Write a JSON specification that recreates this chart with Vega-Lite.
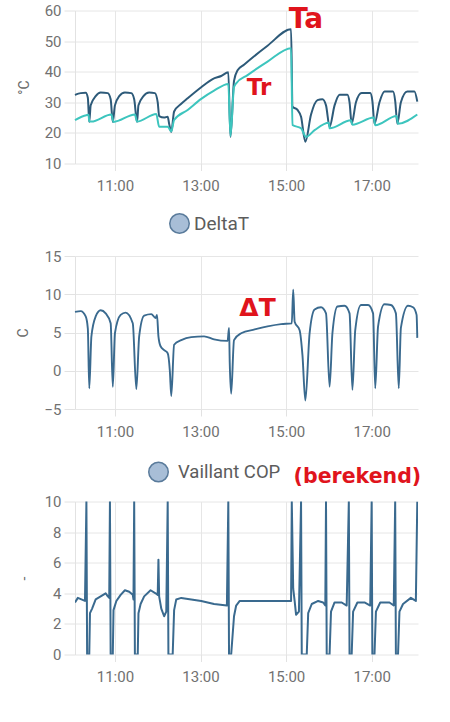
{
  "$schema": "https://vega.github.io/schema/vega-lite/v6.json",
  "background": "#ffffff",
  "padding": {"left": 16, "top": 3.5, "right": 5, "bottom": 5},
  "bounds": "flush",
  "spacing": 92.5,
  "resolve": {
    "scale": {"x": "independent", "y": "independent", "color": "independent", "fill": "independent"},
    "legend": {"color": "independent", "fill": "independent"}
  },
  "config": {
    "view": {"stroke": null},
    "font": "Roboto",
    "axis": {
      "gridColor": "#e6e6e6",
      "domainColor": "#e2e2e2",
      "tickColor": "#e2e2e2",
      "labelColor": "#717171",
      "labelFontSize": 15,
      "labelFontWeight": "normal",
      "titleColor": "#6a6a6a",
      "titleFontSize": 14,
      "titleFontWeight": "normal"
    },
    "axisX": {"domain": false, "tickSize": 7, "labelPadding": 8},
    "axisY": {"domain": true, "tickSize": 11, "labelPadding": 3, "tickCount": 12, "titlePadding": 13},
    "line": {"strokeWidth": 2, "strokeJoin": "round"},
    "legend": {"labelColor": "#5c5c5c", "symbolType": "circle", "symbolSize": 380, "title": null},
    "text": {"font": "DejaVu Sans", "fontWeight": "bold", "color": "#e0141c"}
  },
  "datasets": {
    "temp": [
      {"t": "10:04", "v": 32.4, "s": "Ta"}, {"t": "10:12", "v": 33.0, "s": "Ta"}, {"t": "10:19", "v": 33.1, "s": "Ta"},
      {"t": "10:22", "v": 31.5, "s": "Ta"}, {"t": "10:24", "v": 23.6, "s": "Ta"}, {"t": "10:26", "v": 29, "s": "Ta"},
      {"t": "10:33", "v": 32, "s": "Ta"}, {"t": "10:40", "v": 33.2, "s": "Ta"}, {"t": "10:50", "v": 33, "s": "Ta"},
      {"t": "10:54", "v": 31, "s": "Ta"}, {"t": "10:57", "v": 23.6, "s": "Ta"}, {"t": "11:00", "v": 29, "s": "Ta"},
      {"t": "11:06", "v": 32, "s": "Ta"}, {"t": "11:14", "v": 33.2, "s": "Ta"}, {"t": "11:23", "v": 33, "s": "Ta"},
      {"t": "11:27", "v": 31, "s": "Ta"}, {"t": "11:31", "v": 23.6, "s": "Ta"}, {"t": "11:33", "v": 29, "s": "Ta"},
      {"t": "11:40", "v": 32, "s": "Ta"}, {"t": "11:48", "v": 33.2, "s": "Ta"}, {"t": "11:56", "v": 33, "s": "Ta"},
      {"t": "12:00", "v": 30, "s": "Ta"}, {"t": "12:02", "v": 25.5, "s": "Ta"}, {"t": "12:09", "v": 25, "s": "Ta"},
      {"t": "12:14", "v": 25.3, "s": "Ta"}, {"t": "12:16", "v": 23, "s": "Ta"}, {"t": "12:19", "v": 20.3, "s": "Ta"},
      {"t": "12:23", "v": 27, "s": "Ta"}, {"t": "12:33", "v": 29.5, "s": "Ta"}, {"t": "12:42", "v": 31.3, "s": "Ta"},
      {"t": "13:01", "v": 34.9, "s": "Ta"}, {"t": "13:17", "v": 37.6, "s": "Ta"}, {"t": "13:29", "v": 38.6, "s": "Ta"},
      {"t": "13:39", "v": 39.8, "s": "Ta"}, {"t": "13:42", "v": 18.7, "s": "Ta"}, {"t": "13:47", "v": 37, "s": "Ta"},
      {"t": "13:52", "v": 40.5, "s": "Ta"}, {"t": "14:01", "v": 42.3, "s": "Ta"}, {"t": "14:34", "v": 48.5, "s": "Ta"},
      {"t": "15:07", "v": 53.9, "s": "Ta"}, {"t": "15:09", "v": 28.6, "s": "Ta"}, {"t": "15:16", "v": 27.5, "s": "Ta"},
      {"t": "15:21", "v": 25.3, "s": "Ta"}, {"t": "15:27", "v": 17.1, "s": "Ta"}, {"t": "15:35", "v": 26, "s": "Ta"},
      {"t": "15:44", "v": 30.7, "s": "Ta"}, {"t": "15:51", "v": 31, "s": "Ta"}, {"t": "15:56", "v": 29, "s": "Ta"},
      {"t": "16:01", "v": 22, "s": "Ta"}, {"t": "16:08", "v": 29, "s": "Ta"}, {"t": "16:15", "v": 32.5, "s": "Ta"},
      {"t": "16:26", "v": 32.5, "s": "Ta"}, {"t": "16:29", "v": 30, "s": "Ta"}, {"t": "16:32", "v": 23, "s": "Ta"},
      {"t": "16:38", "v": 30, "s": "Ta"}, {"t": "16:46", "v": 33, "s": "Ta"}, {"t": "16:58", "v": 33, "s": "Ta"},
      {"t": "17:01", "v": 30.5, "s": "Ta"}, {"t": "17:04", "v": 23, "s": "Ta"}, {"t": "17:11", "v": 30, "s": "Ta"},
      {"t": "17:18", "v": 33.5, "s": "Ta"}, {"t": "17:30", "v": 33.5, "s": "Ta"}, {"t": "17:33", "v": 30.5, "s": "Ta"},
      {"t": "17:36", "v": 23, "s": "Ta"}, {"t": "17:41", "v": 30, "s": "Ta"}, {"t": "17:50", "v": 33.5, "s": "Ta"},
      {"t": "18:00", "v": 33.5, "s": "Ta"}, {"t": "18:04", "v": 30.2, "s": "Ta"},
      {"t": "10:04", "v": 24.2, "s": "Tr"}, {"t": "10:20", "v": 25.8, "s": "Tr"}, {"t": "10:23", "v": 25.9, "s": "Tr"},
      {"t": "10:24", "v": 23.8, "s": "Tr"}, {"t": "10:27", "v": 23.7, "s": "Tr"}, {"t": "10:55", "v": 26, "s": "Tr"},
      {"t": "10:58", "v": 23.6, "s": "Tr"}, {"t": "11:28", "v": 26, "s": "Tr"}, {"t": "11:31", "v": 23.7, "s": "Tr"},
      {"t": "11:58", "v": 26.2, "s": "Tr"}, {"t": "12:02", "v": 22, "s": "Tr"}, {"t": "12:14", "v": 22, "s": "Tr"},
      {"t": "12:19", "v": 20.5, "s": "Tr"}, {"t": "12:23", "v": 24.2, "s": "Tr"}, {"t": "12:42", "v": 27.5, "s": "Tr"},
      {"t": "13:01", "v": 31.1, "s": "Tr"}, {"t": "13:19", "v": 33.8, "s": "Tr"}, {"t": "13:39", "v": 36, "s": "Tr"},
      {"t": "13:42", "v": 19, "s": "Tr"}, {"t": "13:47", "v": 35, "s": "Tr"}, {"t": "13:50", "v": 36.2, "s": "Tr"},
      {"t": "14:06", "v": 38.9, "s": "Tr"}, {"t": "14:34", "v": 43.3, "s": "Tr"}, {"t": "15:07", "v": 47.7, "s": "Tr"},
      {"t": "15:09", "v": 22.6, "s": "Tr"}, {"t": "15:21", "v": 21.5, "s": "Tr"}, {"t": "15:28", "v": 18.7, "s": "Tr"},
      {"t": "15:40", "v": 20.9, "s": "Tr"}, {"t": "16:00", "v": 23.3, "s": "Tr"}, {"t": "16:01", "v": 21.5, "s": "Tr"},
      {"t": "16:31", "v": 24.1, "s": "Tr"}, {"t": "16:33", "v": 22.7, "s": "Tr"}, {"t": "17:03", "v": 25, "s": "Tr"},
      {"t": "17:05", "v": 22.5, "s": "Tr"}, {"t": "17:35", "v": 25.5, "s": "Tr"}, {"t": "17:37", "v": 23, "s": "Tr"},
      {"t": "18:04", "v": 26, "s": "Tr"}
    ],
    "delta": [
      {"t": "10:04", "v": 7.7}, {"t": "10:12", "v": 7.8}, {"t": "10:19", "v": 7.1}, {"t": "10:22", "v": 5.5},
      {"t": "10:24", "v": -2.3}, {"t": "10:27", "v": 4.5}, {"t": "10:33", "v": 7.1}, {"t": "10:40", "v": 7.9},
      {"t": "10:47", "v": 7.5}, {"t": "10:54", "v": 6.2}, {"t": "10:57", "v": -2.1}, {"t": "11:00", "v": 4.9},
      {"t": "11:08", "v": 7.3}, {"t": "11:15", "v": 7.6}, {"t": "11:25", "v": 6.2}, {"t": "11:30", "v": -2.4},
      {"t": "11:34", "v": 4.5}, {"t": "11:41", "v": 7.2}, {"t": "11:51", "v": 7.4}, {"t": "11:57", "v": 6.9},
      {"t": "11:59", "v": 7.3}, {"t": "12:01", "v": 4.5}, {"t": "12:04", "v": 3.2}, {"t": "12:09", "v": 2.7},
      {"t": "12:14", "v": 2.3}, {"t": "12:17", "v": 0}, {"t": "12:19", "v": -3.3}, {"t": "12:23", "v": 3.4},
      {"t": "12:33", "v": 4.0}, {"t": "12:47", "v": 4.4}, {"t": "13:05", "v": 4.5}, {"t": "13:19", "v": 4.1},
      {"t": "13:38", "v": 3.9}, {"t": "13:40", "v": 5.6}, {"t": "13:41", "v": 1}, {"t": "13:43", "v": -3.0},
      {"t": "13:47", "v": 4.0}, {"t": "13:57", "v": 4.9}, {"t": "14:16", "v": 5.4}, {"t": "14:34", "v": 5.8},
      {"t": "14:53", "v": 6.1}, {"t": "15:08", "v": 6.2}, {"t": "15:10", "v": 10.6}, {"t": "15:12", "v": 6.4},
      {"t": "15:19", "v": 5.3}, {"t": "15:23", "v": 2}, {"t": "15:27", "v": -3.9}, {"t": "15:33", "v": 4.9},
      {"t": "15:40", "v": 8.0}, {"t": "15:49", "v": 8.3}, {"t": "15:56", "v": 7.5}, {"t": "16:01", "v": -2.1},
      {"t": "16:05", "v": 4.9}, {"t": "16:12", "v": 8.4}, {"t": "16:22", "v": 8.5}, {"t": "16:29", "v": 7.5},
      {"t": "16:33", "v": -2.5}, {"t": "16:37", "v": 5.3}, {"t": "16:45", "v": 8.6}, {"t": "16:55", "v": 8.6},
      {"t": "17:02", "v": 7.5}, {"t": "17:05", "v": -2.3}, {"t": "17:09", "v": 5.8}, {"t": "17:18", "v": 8.7},
      {"t": "17:27", "v": 8.6}, {"t": "17:34", "v": 7.5}, {"t": "17:38", "v": -2.3}, {"t": "17:41", "v": 5.6},
      {"t": "17:51", "v": 8.5}, {"t": "17:58", "v": 8.3}, {"t": "18:03", "v": 7.3}, {"t": "18:04", "v": 4.3}
    ],
    "cop": [
      {"t": "10:04", "v": 3.4}, {"t": "10:08", "v": 3.7}, {"t": "10:13", "v": 3.6}, {"t": "10:18", "v": 3.5},
      {"t": "10:20", "v": 10}, {"t": "10:21", "v": 0}, {"t": "10:24", "v": 0}, {"t": "10:25", "v": 2.7},
      {"t": "10:28", "v": 3.0}, {"t": "10:33", "v": 3.6}, {"t": "10:40", "v": 3.8}, {"t": "10:47", "v": 4.0},
      {"t": "10:50", "v": 3.8}, {"t": "10:52", "v": 3.7}, {"t": "10:53", "v": 10}, {"t": "10:54", "v": 0},
      {"t": "10:57", "v": 0}, {"t": "10:58", "v": 2.9}, {"t": "11:02", "v": 3.5}, {"t": "11:08", "v": 3.9},
      {"t": "11:14", "v": 4.2}, {"t": "11:20", "v": 4.1}, {"t": "11:25", "v": 3.9}, {"t": "11:26", "v": 3.6},
      {"t": "11:27", "v": 10}, {"t": "11:28", "v": 0}, {"t": "11:32", "v": 0}, {"t": "11:33", "v": 2.7},
      {"t": "11:36", "v": 3.3}, {"t": "11:41", "v": 3.8}, {"t": "11:50", "v": 4.2}, {"t": "11:57", "v": 4.0},
      {"t": "12:00", "v": 3.9}, {"t": "12:01", "v": 6.2}, {"t": "12:02", "v": 3.8}, {"t": "12:05", "v": 3.0},
      {"t": "12:09", "v": 2.5}, {"t": "12:12", "v": 2.8}, {"t": "12:14", "v": 10}, {"t": "12:15", "v": 0},
      {"t": "12:21", "v": 0}, {"t": "12:23", "v": 2.9}, {"t": "12:26", "v": 3.6}, {"t": "12:33", "v": 3.7},
      {"t": "12:47", "v": 3.6}, {"t": "13:01", "v": 3.5}, {"t": "13:19", "v": 3.3}, {"t": "13:37", "v": 3.2},
      {"t": "13:39", "v": 10}, {"t": "13:40", "v": 0}, {"t": "13:43", "v": 0}, {"t": "13:47", "v": 2.5},
      {"t": "13:50", "v": 3.2}, {"t": "13:55", "v": 3.5}, {"t": "14:10", "v": 3.5}, {"t": "14:34", "v": 3.5},
      {"t": "14:55", "v": 3.5}, {"t": "15:07", "v": 3.5}, {"t": "15:08", "v": 10}, {"t": "15:10", "v": 4.3},
      {"t": "15:12", "v": 3.5}, {"t": "15:14", "v": 2.6}, {"t": "15:18", "v": 2.8}, {"t": "15:21", "v": 10},
      {"t": "15:22", "v": 0}, {"t": "15:29", "v": 0}, {"t": "15:31", "v": 2.7}, {"t": "15:36", "v": 3.3},
      {"t": "15:45", "v": 3.5}, {"t": "15:52", "v": 3.4}, {"t": "15:55", "v": 3.2}, {"t": "15:56", "v": 10},
      {"t": "15:57", "v": 0}, {"t": "16:01", "v": 0}, {"t": "16:03", "v": 2.8}, {"t": "16:08", "v": 3.4},
      {"t": "16:18", "v": 3.4}, {"t": "16:25", "v": 3.2}, {"t": "16:28", "v": 10}, {"t": "16:29", "v": 0},
      {"t": "16:32", "v": 0}, {"t": "16:34", "v": 2.8}, {"t": "16:40", "v": 3.4}, {"t": "16:50", "v": 3.4},
      {"t": "16:58", "v": 3.2}, {"t": "17:00", "v": 10}, {"t": "17:01", "v": 0}, {"t": "17:04", "v": 0},
      {"t": "17:06", "v": 2.8}, {"t": "17:12", "v": 3.4}, {"t": "17:25", "v": 3.4}, {"t": "17:31", "v": 3.2},
      {"t": "17:33", "v": 10}, {"t": "17:34", "v": 0}, {"t": "17:37", "v": 0}, {"t": "17:39", "v": 2.8},
      {"t": "17:44", "v": 3.3}, {"t": "17:55", "v": 3.7}, {"t": "18:02", "v": 3.5}, {"t": "18:04", "v": 10}
    ]
  },
  "vconcat": [
    {
      "width": 343,
      "height": 153,
      "layer": [
        {
          "data": {"name": "temp", "format": {"parse": {"t": "date:'%H:%M'"}}},
          "mark": {"type": "line", "interpolate": "monotone"},
          "encoding": {
            "x": {
              "field": "t", "type": "temporal", "title": null,
              "scale": {"nice": false, "domain": [
                {"year": 1900, "month": 1, "date": 1, "hours": 10, "minutes": 4},
                {"year": 1900, "month": 1, "date": 1, "hours": 18, "minutes": 5}]},
              "axis": {"format": "%H:%M", "values": [
                {"year": 1900, "month": 1, "date": 1, "hours": 11},
                {"year": 1900, "month": 1, "date": 1, "hours": 13},
                {"year": 1900, "month": 1, "date": 1, "hours": 15},
                {"year": 1900, "month": 1, "date": 1, "hours": 17}]}
            },
            "y": {
              "field": "v", "type": "quantitative", "title": "°C",
              "scale": {"domain": [10, 60], "nice": false, "zero": false},
              "axis": {"values": [10, 20, 30, 40, 50, 60]}
            },
            "color": {
              "field": "s", "type": "nominal",
              "scale": {"domain": ["Ta", "Tr"], "range": ["#2d5a79", "#3dc5be"]},
              "legend": null
            }
          }
        },
        {
          "data": {"values": [{"t": "15:28", "v": 56.9, "label": "Ta"}], "format": {"parse": {"t": "date:'%H:%M'"}}},
          "mark": {"type": "text", "fontSize": 28},
          "encoding": {
            "x": {"field": "t", "type": "temporal"},
            "y": {"field": "v", "type": "quantitative"},
            "text": {"field": "label"}
          }
        },
        {
          "data": {"values": [{"t": "14:22", "v": 34.7, "label": "Tr"}], "format": {"parse": {"t": "date:'%H:%M'"}}},
          "mark": {"type": "text", "fontSize": 23},
          "encoding": {
            "x": {"field": "t", "type": "temporal"},
            "y": {"field": "v", "type": "quantitative"},
            "text": {"field": "label"}
          }
        }
      ]
    },
    {
      "width": 343,
      "height": 153,
      "layer": [
        {
          "data": {"name": "delta", "format": {"parse": {"t": "date:'%H:%M'"}}},
          "mark": {"type": "line", "strokeWidth": 1.9, "stroke": "#3a6a8f", "interpolate": "monotone"},
          "encoding": {
            "x": {
              "field": "t", "type": "temporal", "title": null,
              "scale": {"nice": false, "domain": [
                {"year": 1900, "month": 1, "date": 1, "hours": 10, "minutes": 4},
                {"year": 1900, "month": 1, "date": 1, "hours": 18, "minutes": 5}]},
              "axis": {"format": "%H:%M", "values": [
                {"year": 1900, "month": 1, "date": 1, "hours": 11},
                {"year": 1900, "month": 1, "date": 1, "hours": 13},
                {"year": 1900, "month": 1, "date": 1, "hours": 15},
                {"year": 1900, "month": 1, "date": 1, "hours": 17}]}
            },
            "y": {
              "field": "v", "type": "quantitative", "title": "C",
              "scale": {"domain": [-5, 15], "nice": false, "zero": false},
              "axis": {"values": [-5, 0, 5, 10, 15]}
            }
          }
        },
        {
          "data": {"values": []},
          "mark": {"type": "point", "filled": true, "opacity": 1, "stroke": "#5a7b9b", "strokeWidth": 1.5},
          "encoding": {
            "fill": {
              "datum": "DeltaT", "type": "nominal",
              "scale": {"range": ["#a8bed7"]},
              "legend": {"orient": "none", "legendX": 94, "legendY": -43, "labelFontSize": 19, "labelOffset": 4}
            }
          }
        },
        {
          "data": {"values": [{"t": "14:20", "v": 8.2, "label": "ΔT"}], "format": {"parse": {"t": "date:'%H:%M'"}}},
          "mark": {"type": "text", "fontSize": 25},
          "encoding": {
            "x": {"field": "t", "type": "temporal"},
            "y": {"field": "v", "type": "quantitative"},
            "text": {"field": "label"}
          }
        }
      ]
    },
    {
      "width": 343,
      "height": 153,
      "layer": [
        {
          "data": {"name": "cop", "format": {"parse": {"t": "date:'%H:%M'"}}},
          "mark": {"type": "line", "strokeWidth": 2, "clip": true, "stroke": "#3a6a8f"},
          "encoding": {
            "x": {
              "field": "t", "type": "temporal", "title": null,
              "scale": {"nice": false, "domain": [
                {"year": 1900, "month": 1, "date": 1, "hours": 10, "minutes": 4},
                {"year": 1900, "month": 1, "date": 1, "hours": 18, "minutes": 5}]},
              "axis": {"format": "%H:%M", "values": [
                {"year": 1900, "month": 1, "date": 1, "hours": 11},
                {"year": 1900, "month": 1, "date": 1, "hours": 13},
                {"year": 1900, "month": 1, "date": 1, "hours": 15},
                {"year": 1900, "month": 1, "date": 1, "hours": 17}]}
            },
            "y": {
              "field": "v", "type": "quantitative", "title": "-",
              "scale": {"domain": [0, 10], "nice": false},
              "axis": {"values": [0, 2, 4, 6, 8, 10]}
            }
          }
        },
        {
          "data": {"values": []},
          "mark": {"type": "point", "filled": true, "opacity": 1, "stroke": "#5a7b9b", "strokeWidth": 1.5},
          "encoding": {
            "fill": {
              "datum": "Vaillant COP", "type": "nominal",
              "scale": {"range": ["#a8bed7"]},
              "legend": {"orient": "none", "legendX": 73, "legendY": -40, "labelFontSize": 18.5, "labelOffset": 9}
            }
          }
        },
        {
          "data": {"values": [{"t": "16:40", "v": 11.6, "label": "(berekend)"}], "format": {"parse": {"t": "date:'%H:%M'"}}},
          "mark": {"type": "text", "fontSize": 20.5},
          "encoding": {
            "x": {"field": "t", "type": "temporal"},
            "y": {"field": "v", "type": "quantitative"},
            "text": {"field": "label"}
          }
        }
      ]
    }
  ]
}
